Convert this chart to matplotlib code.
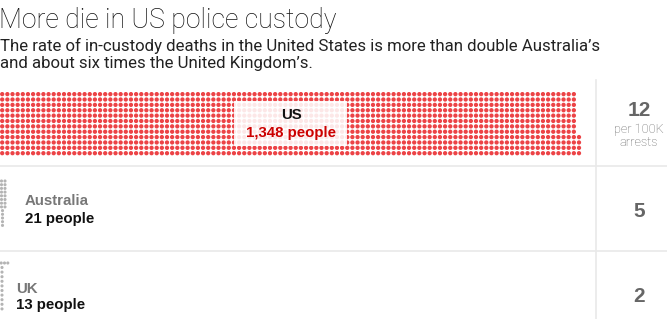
import numpy as np
import matplotlib
matplotlib.use("Agg")
import matplotlib.pyplot as plt
from matplotlib.patches import Rectangle

countries = ["US", "Australia", "UK"]
deaths = [1348, 21, 13]
rates = [12, 5, 2]
title = "More die in US police custody"
subtitle = ["The rate of in-custody deaths in the United States is more than double Australia\u2019s",
            "and about six times the United Kingdom\u2019s."]

W, H = 667, 319
fig = plt.figure(figsize=(W / 100, H / 100), dpi=100)
ax = fig.add_axes([0, 0, 1, 1])
ax.set_xlim(0, W)
ax.set_ylim(H, 0)
ax.axis("off")

red = "#ec4346"
grey_dot = "#b4b4b4"
line_c = "#e9e9e9"

# title block
ax.text(-1, 28, title, fontsize=19.2, family="Roboto", weight="light", color="#111111", va="baseline")
ax.text(0, 51, subtitle[0], fontsize=12.1, family="Roboto", color="#222222", va="baseline")
ax.text(0, 68, subtitle[1], fontsize=12.1, family="Roboto", color="#222222", va="baseline")

# separators
ax.plot([0, W], [166, 166], color=line_c, lw=1.2)
ax.plot([0, W], [251, 251], color=line_c, lw=1.2)
ax.plot([596, 596], [80, H], color=line_c, lw=1.2)

# US: 12 rows, filled column by column from the bottom
n = deaths[0]
i = np.arange(n)
col, row = i // 12, i % 12
ax.scatter(2.2 + col * 5.15, 153.2 - row * 5.37, s=9.5, color=red, edgecolors="none", zorder=2)

# label box over the dots
ax.add_patch(Rectangle((234, 101), 113, 45, facecolor="white", alpha=0.88, edgecolor="none", zorder=3))
ax.text(291, 119, countries[0], ha="center", va="baseline", fontsize=10.8, weight="bold",
        family="Liberation Sans", color="#111111", zorder=4)
ax.text(291, 137, f"{deaths[0]:,} people", ha="center", va="baseline", fontsize=10.8, weight="bold",
        family="Liberation Sans", color="#cc0000", zorder=4)

# Australia: small grey cluster at the left edge
n = deaths[1]
au_x = [1.5, 5.0] * 8 + [2.5] * (n - 16)
au_y = [181 + 3.7 * k for k in range(8) for _ in range(2)] + [181 + 3.7 * (8 + k) for k in range(n - 16)]
au_y = sorted(au_y)
ax.scatter(au_x, au_y, s=5, color=grey_dot, edgecolors="none")
ax.text(25, 205, countries[1], fontsize=10.8, weight="bold", family="Liberation Sans", color="#777777", va="baseline")
ax.text(25, 223, f"{deaths[1]} people", fontsize=10.8, weight="bold", family="Liberation Sans", color="#111111", va="baseline")

# UK: top row of three, then a single column
n = deaths[2]
uk_x = [1.2, 4.5, 7.8] + [2.0] * (n - 3)
uk_y = [263] * 3 + [267.5 + 4.6 * k for k in range(n - 3)]
ax.scatter(uk_x, uk_y, s=5, color=grey_dot, edgecolors="none")
ax.text(16, 293, countries[2], fontsize=10.8, weight="bold", family="Liberation Sans", color="#777777", va="baseline")
ax.text(16, 309, f"{deaths[2]} people", fontsize=10.8, weight="bold", family="Liberation Sans", color="#111111", va="baseline")

# rate column
rate_y = [116, 217, 302]
for r, y in zip(rates, rate_y):
    ax.text(639, y, str(r), ha="center", va="baseline", fontsize=15, weight="bold",
            family="Liberation Sans", color="#666666")
ax.text(639, 133, "per 100K", ha="center", va="baseline", fontsize=9.2, family="Roboto",
        weight="light", color="#666666")
ax.text(639, 146, "arrests", ha="center", va="baseline", fontsize=9.2, family="Roboto",
        weight="light", color="#666666")

fig.savefig("out.png", dpi=100)
